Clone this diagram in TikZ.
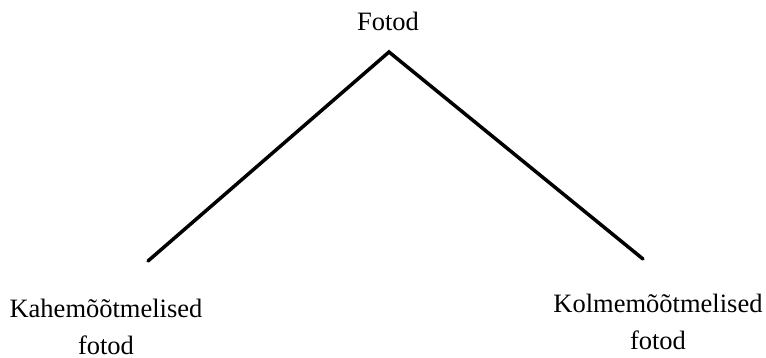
\documentclass[tikz,border=0pt]{standalone}
\usepackage{fontspec}
\setmainfont{Liberation Serif}
\begin{document}
\begin{tikzpicture}[x=1pt,y=1pt,
  lbl/.style={font=\fontsize{26.5}{37}\selectfont, inner sep=0pt, align=center},
  branch/.style={line width=3.5pt, line cap=round, line join=miter}]
\useasboundingbox (0,0) rectangle (766,358);
\node[lbl, anchor=base] (root) at (388,327) {Fotod};
\coordinate (apex) at (389,306);
\coordinate (lend) at (148,97);
\coordinate (rend) at (643,99);
\node[lbl, anchor=base] (two) at (106,3) {Kahemõõtmelised\\fotod};
\node[lbl, anchor=base] (three) at (658,8) {Kolmemõõtmelised\\fotod};
\draw[branch] (lend) -- (apex) -- (rend);
\end{tikzpicture}
\end{document}
